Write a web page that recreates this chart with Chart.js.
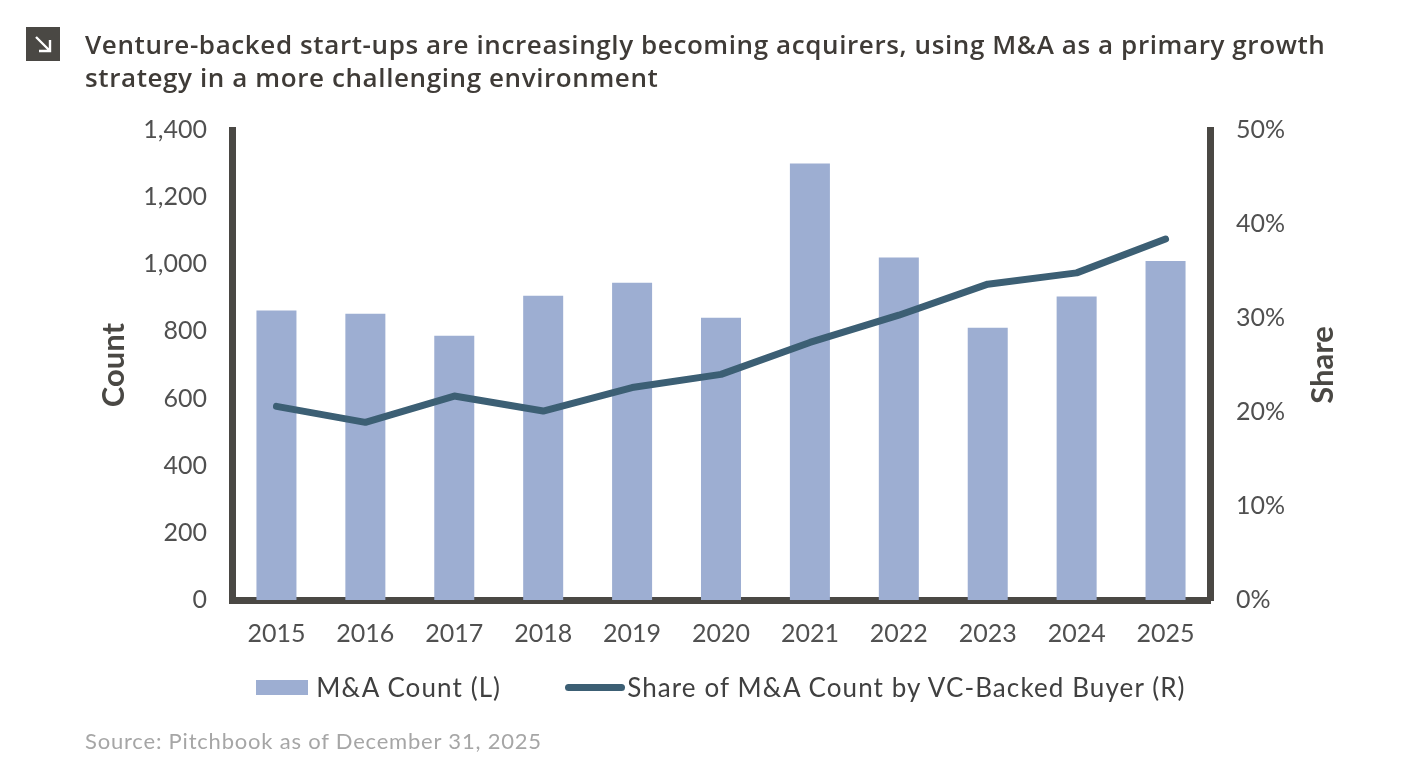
<!DOCTYPE html>
<html>
<head>
<meta charset="utf-8">
<title>VC-backed M&amp;A</title>
<script src="https://cdn.jsdelivr.net/npm/chart.js@4.4.1/dist/chart.umd.min.js"></script>
<style>
    html, body { margin: 0; padding: 0; background: #fff; }
    body { width: 1424px; height: 770px; position: relative; overflow: hidden; font-family: Lato, "Open Sans", sans-serif; }
    #chart-wrap { position: absolute; left: 0; top: 0; width: 1424px; height: 770px; }
    .icon { position: absolute; left: 26px; top: 27px; width: 34px; height: 34px; background: #4a4844; }
    .title { position: absolute; left: 85px; top: 28px; font-family: "Open Sans", Lato, sans-serif; font-size: 26px; letter-spacing: 0.6px; font-weight: 600; color: #3f3b37; line-height: 33px; white-space: nowrap; }
    .legend { position: absolute; left: 0; top: 671px; width: 1442px; display: flex; justify-content: center; align-items: center; font-size: 26px; letter-spacing: 1.1px; color: #404040; }
    .legend-item { display: flex; align-items: center; margin: 0 32px; }
    .legend-item span { white-space: nowrap; }
    .source { position: absolute; left: 85px; top: 727px; font-size: 22px; letter-spacing: 0.8px; color: #a6a6a6; }
</style>
</head>
<body>
<div id="chart-wrap"><canvas id="ma-chart" width="1424" height="770"></canvas></div>
<div class="icon">
    <svg width="34" height="34" viewBox="0 0 34 34">
        <path d="M10 10 L24 24 M24 13 L24 24 L13 24" stroke="#fff" stroke-width="2.4" fill="none"/>
    </svg>
</div>
<div class="title">Venture-backed start-ups are increasingly becoming acquirers, using M&amp;A as a primary growth<br>strategy in a more challenging environment</div>
<div class="legend" id="legend"></div>
<div class="source">Source: Pitchbook as of December 31, 2025</div>

<script>
// values
const years = ['2015', '2016', '2017', '2018', '2019', '2020', '2021', '2022', '2023', '2024', '2025'];
const maCount = [862, 853, 787, 906, 945, 841, 1300, 1020, 811, 904, 1010];
const vcShare = [20.6, 18.9, 21.7, 20.1, 22.6, 24.0, 27.4, 30.3, 33.6, 34.8, 38.4];
const countTicks = [0, 200, 400, 600, 800, 1000, 1200, 1400];
const shareTicks = [0, 10, 20, 30, 40, 50];

const barColor = '#9daed2';
const lineColor = '#3c5f74';
const axisColor = '#4a4844';
const tickColor = '#505050';
const baseFont = 'Lato, "Open Sans", sans-serif';

// the right axis title reads bottom-to-top in the original, chart.js would rotate it the other way
const shareTitle = {
    id: 'shareTitle',
    afterDraw(chart) {
        const s = chart.scales.y1;
        const ctx = chart.ctx;
        ctx.save();
        ctx.translate(s.left + 113, (s.top + s.bottom) / 2);
        ctx.rotate(-Math.PI / 2);
        ctx.font = 'bold 31px ' + baseFont;
        ctx.fillStyle = axisColor;
        ctx.textAlign = 'center';
        ctx.textBaseline = 'middle';
        ctx.fillText('Share', 0, 0);
        ctx.restore();
    }
};

const tickFont = { family: baseFont, size: 25 };

const chart = new Chart(document.getElementById('ma-chart'), {
    data: {
        labels: years,
        datasets: [
            {
                type: 'line',
                label: 'Share of M&A Count by VC-Backed Buyer (R)',
                data: vcShare,
                yAxisID: 'y1',
                borderColor: lineColor,
                backgroundColor: lineColor,
                borderWidth: 7,
                borderCapStyle: 'round',
                borderJoinStyle: 'round',
                pointRadius: 0,
                tension: 0,
                order: 0
            },
            {
                type: 'bar',
                label: 'M&A Count (L)',
                data: maCount,
                yAxisID: 'y',
                backgroundColor: barColor,
                borderWidth: 0,
                barPercentage: 0.9,
                categoryPercentage: 0.5,
                order: 1
            }
        ]
    },
    options: {
        responsive: false,
        animation: false,
        devicePixelRatio: 1,
        layout: { padding: { top: 130, left: 0, right: 0, bottom: 106 } },
        plugins: {
            legend: { display: false },
            tooltip: { enabled: false }
        },
        scales: {
            x: {
                type: 'category',
                offset: true,
                grid: { display: false, drawTicks: false },
                border: { display: true, color: axisColor, width: 7 },
                ticks: { font: tickFont, color: tickColor, padding: 19, maxRotation: 0 },
                afterFit(scale) { scale.height = 64; }
            },
            y: {
                position: 'left',
                min: 0,
                max: countTicks[countTicks.length - 1],
                afterBuildTicks(scale) { scale.ticks = countTicks.map(v => ({ value: v })); },
                grid: { display: false, drawTicks: false },
                border: { display: true, color: axisColor, width: 7 },
                ticks: {
                    font: tickFont,
                    color: tickColor,
                    padding: 25,
                    callback: v => v.toLocaleString('en-US')
                },
                title: {
                    display: true,
                    text: 'Count',
                    color: axisColor,
                    font: { family: baseFont, size: 31, weight: 'bold' },
                    padding: { top: 95, bottom: 0 }
                },
                afterFit(scale) { scale.width = 232; }
            },
            y1: {
                position: 'right',
                min: 0,
                max: shareTicks[shareTicks.length - 1],
                afterBuildTicks(scale) { scale.ticks = shareTicks.map(v => ({ value: v })); },
                grid: { display: false, drawTicks: false },
                border: { display: true, color: axisColor, width: 7 },
                ticks: {
                    font: tickFont,
                    color: tickColor,
                    padding: 26,
                    callback: v => v + '%'
                },
                afterFit(scale) { scale.width = 214; }
            }
        }
    },
    plugins: [shareTitle]
});

// legend built from the datasets, bar swatch first like the original
function buildLegend(ch) {
    const box = document.getElementById('legend');
    const sets = ch.data.datasets.slice().reverse();
    box.innerHTML = sets.map(ds => {
        const swatch = ds.type === 'bar'
            ? `<i style="display:inline-block;width:52px;height:15px;background:${ds.backgroundColor};margin-right:8px"></i>`
            : `<i style="display:inline-block;width:60px;height:7px;border-radius:4px;background:${ds.borderColor};margin-right:2px"></i>`;
        return `<div class="legend-item">${swatch}<span>${ds.label.replace('&', '&amp;')}</span></div>`;
    }).join('');
}

buildLegend(chart);
</script>
</body>
</html>
